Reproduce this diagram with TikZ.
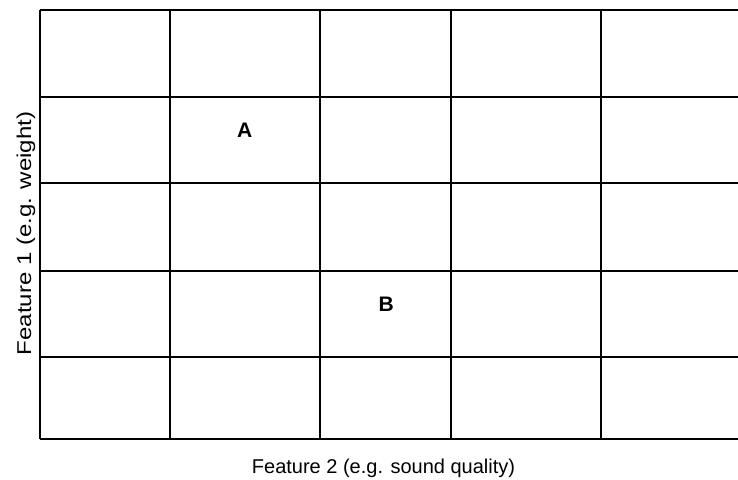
\documentclass[tikz,border=0pt]{standalone}
\usepackage{fontspec}
\setmainfont{Liberation Sans}
\usetikzlibrary{arrows}

\tikzset{
	gridline/.style={line width=1.8pt, color=black},
	cellmark/.style={font=\fontsize{21}{26}\selectfont\bfseries, inner sep=0pt},
	axislabel/.style={font=\fontsize{20}{24}\selectfont, inner sep=0pt}
}

\begin{document}
\begin{tikzpicture}[x=1pt,y=-1pt]
			\useasboundingbox (0,0) rectangle (738,479);
			% rows
			\foreach \y in {10,97,183,271,357,439}
				\draw[gridline](40,\y) -- (738,\y);
			% columns
			\foreach \x in {40,170,320,451,601}
				\draw[gridline](\x,10) -- (\x,439);
			\node[cellmark, anchor=base] (a) at (244.8,137.7) {A};
			\node[cellmark, anchor=base] (b) at (386.3,311) {B};
			\node[axislabel, anchor=base] (f2) at (383.5,473) {Feature 2 (e.g. sound quality)};
			\node[axislabel, anchor=base, rotate=90] (f1) at (31,233.5) {\scalebox{1.2}[1]{Feature 1 (e.g. weight)}};
		\end{tikzpicture}
\end{document}
